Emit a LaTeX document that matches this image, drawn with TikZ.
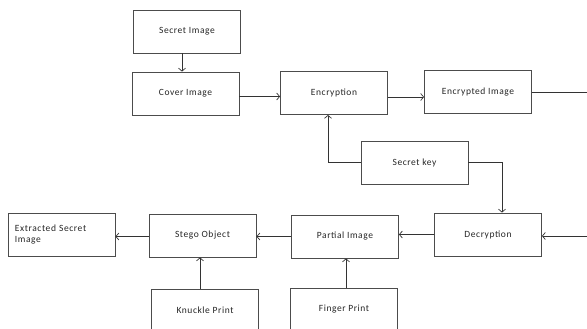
\documentclass[tikz,border=0pt]{standalone}
\usepackage{fontspec}
\setmainfont{Carlito}
\newfontfamily\lblfont[LetterSpace=6]{Carlito}
\usetikzlibrary{arrows.meta,positioning}

\begin{document}
\begin{tikzpicture}[x=1pt, y=-1pt, >={Straight Barb[length=3pt,width=7pt]},
    every node/.style={font=\lblfont\fontsize{9.5}{10.5}\selectfont, text=black!85},
    blk/.style={draw=black!70, line width=0.8pt, minimum width=107pt, minimum height=43pt, inner sep=2pt},
    link/.style={->, draw=black!80, line width=0.7pt}]
    \useasboundingbox (0,0) rectangle (587,329);

    % top row
    \node[blk] (secret) at (187,31.5) {Secret Image};
    \node[blk] (cover) at (185.5,93.5) {Cover Image};
    \node[blk] (encrypt) at (334,93) {Encryption};
    \node[blk] (encimg) at (478,92) {Encrypted Image};
    \node[blk] (key) at (414.5,162.5) {Secret key};

    % bottom row
    \node[blk] (decrypt) at (488,234.5) {Decryption};
    \node[blk] (partial) at (345,236.5) {Partial Image};
    \node[blk] (stego) at (202.5,235.5) {Stego Object};
    \node[blk, text width=93pt, align=left, inner xsep=7pt] (extract) at (61.5,234.5) {Extracted Secret\\Image};
    \node[blk] (knuckle) at (205,310.5) {Knuckle Print};
    \node[blk] (finger) at (344,309.5) {Finger Print};

    \coordinate (encout) at (587,92);
    \coordinate (decin) at (587,236);

    \draw[link] ([xshift=-5pt]secret.south) -- ([xshift=-5pt]secret.south |- cover.north);
    \draw[link] ([yshift=-3pt]cover.east) -- ([yshift=-3pt]cover.east -| encrypt.west);
    \draw[link] ([yshift=-4pt]encrypt.east) -- ([yshift=-4pt]encrypt.east -| encimg.west);
    \draw[link, -] (encimg.east) -- (encout);
    \draw[link] (key.west) -| ([xshift=-6pt]encrypt.south);
    \draw[link] (key.east) -| ([xshift=14pt]decrypt.north);
    \draw[link] (decin) -- (decin -| decrypt.east);
    \draw[link] (decrypt.west) -- (decrypt.west -| partial.east);
    \draw[link] (partial.west) -- (partial.west -| stego.east);
    \draw[link] ([yshift=-1pt]stego.west) -- ([yshift=-1pt]stego.west -| extract.east);
    \draw[link] ([xshift=-5pt]knuckle.north) -- ([xshift=-5pt]knuckle.north |- stego.south);
    \draw[link] ([xshift=2pt]finger.north) -- ([xshift=2pt]finger.north |- partial.south);
\end{tikzpicture}
\end{document}
